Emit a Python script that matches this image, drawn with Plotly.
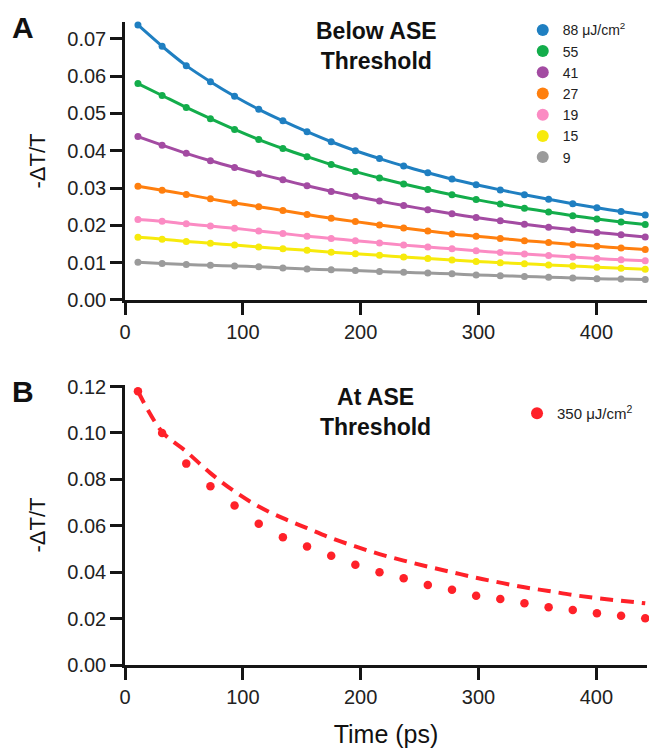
import plotly.graph_objects as go
from plotly.subplots import make_subplots

# ---------------- data ----------------
time_ps = [11, 31.5, 52, 72.5, 93, 113.5, 134, 154.5, 175, 195.5, 216, 236.5,
           257, 277.5, 298, 318.5, 339, 359.5, 380, 400.5, 421, 441.5]

fluence_labels = ["88 \u03bcJ/cm<sup>2</sup>", "55", "41", "27", "19", "15", "9"]
fluence_colors = ["#1f7fc1", "#13ad4b", "#a34ba2", "#ff7f0e", "#fb8bc3", "#f7ea0c", "#9b9b9b"]

dT_88 = [0.0737, 0.0680, 0.0628, 0.0585, 0.0546, 0.0511, 0.0480, 0.0451, 0.0424, 0.0400, 0.0379,
         0.0359, 0.0341, 0.0324, 0.0309, 0.0295, 0.0282, 0.0270, 0.0258, 0.0247, 0.0237, 0.0228]
dT_55 = [0.0580, 0.0548, 0.0516, 0.0486, 0.0457, 0.0430, 0.0406, 0.0384, 0.0363, 0.0344, 0.0327,
         0.0311, 0.0296, 0.0282, 0.0269, 0.0257, 0.0246, 0.0236, 0.0226, 0.0217, 0.0209, 0.0202]
dT_41 = [0.0438, 0.0415, 0.0393, 0.0373, 0.0355, 0.0338, 0.0322, 0.0306, 0.0291, 0.0278, 0.0265,
         0.0253, 0.0242, 0.0231, 0.0221, 0.0212, 0.0203, 0.0195, 0.0188, 0.0181, 0.0175, 0.0169]
dT_27 = [0.0305, 0.0294, 0.0283, 0.0271, 0.0260, 0.0250, 0.0240, 0.0229, 0.0219, 0.0210, 0.0201,
         0.0193, 0.0185, 0.0177, 0.0171, 0.0165, 0.0159, 0.0154, 0.0149, 0.0144, 0.0139, 0.0135]
dT_19 = [0.0216, 0.0211, 0.0204, 0.0198, 0.0192, 0.0185, 0.0178, 0.0171, 0.0165, 0.0159, 0.0153,
         0.0147, 0.0142, 0.0137, 0.0132, 0.0127, 0.0123, 0.0119, 0.0115, 0.0111, 0.0108, 0.0105]
dT_15 = [0.0168, 0.0163, 0.0157, 0.0152, 0.0147, 0.0142, 0.0137, 0.0133, 0.0128, 0.0124, 0.0120,
         0.0115, 0.0111, 0.0107, 0.0103, 0.0100, 0.0097, 0.0094, 0.0091, 0.0088, 0.0085, 0.0082]
dT_9 = [0.0101, 0.0098, 0.0095, 0.0093, 0.0091, 0.0089, 0.0086, 0.0083, 0.0081, 0.0079, 0.0076,
        0.0074, 0.0072, 0.0070, 0.0067, 0.0065, 0.0063, 0.0061, 0.0059, 0.0057, 0.0056, 0.0055]
below_series = [dT_88, dT_55, dT_41, dT_27, dT_19, dT_15, dT_9]

ase_label = "350 \u03bcJ/cm<sup>2</sup>"
ase_color = "#ff2129"
dT_350 = [0.1180, 0.1000, 0.0868, 0.0770, 0.0688, 0.0609, 0.0551, 0.0511, 0.0471, 0.0432, 0.0400,
          0.0374, 0.0345, 0.0324, 0.0299, 0.0285, 0.0266, 0.0249, 0.0237, 0.0223, 0.0212, 0.0201]
fit_350 = [0.1180, 0.1005, 0.0920, 0.0827, 0.0748, 0.0683, 0.0633, 0.0590, 0.0547, 0.0511, 0.0478,
           0.0450, 0.0424, 0.0400, 0.0376, 0.0355, 0.0335, 0.0319, 0.0302, 0.0288, 0.0277, 0.0266]

yticks_A = [0.00, 0.01, 0.02, 0.03, 0.04, 0.05, 0.06, 0.07]
yticks_B = [0.00, 0.02, 0.04, 0.06, 0.08, 0.10, 0.12]
xticks = [0, 100, 200, 300, 400]

# ---------------- figure ----------------
FONT = "Liberation Sans, Arial, sans-serif"
INK = "#151515"

fig = make_subplots(rows=2, cols=1)

for lab, col, vals in zip(fluence_labels, fluence_colors, below_series):
    fig.add_trace(go.Scatter(x=time_ps, y=vals, mode="lines",
                             line=dict(color=col, width=3, shape="spline", smoothing=0.8),
                             showlegend=False, hoverinfo="skip", cliponaxis=False), row=1, col=1)
    fig.add_trace(go.Scatter(x=time_ps, y=vals, mode="markers", name=lab,
                             marker=dict(color=col, size=7), legend="legend", cliponaxis=False),
                  row=1, col=1)

fig.add_trace(go.Scatter(x=time_ps, y=fit_350, mode="lines", showlegend=False,
                         line=dict(color=ase_color, width=4, dash="13px,8px", shape="spline"),
                         cliponaxis=False), row=2, col=1)
fig.add_trace(go.Scatter(x=time_ps, y=dT_350, mode="markers", name=ase_label,
                         marker=dict(color=ase_color, size=8.5), legend="legend2", cliponaxis=False),
              row=2, col=1)

axis_common = dict(showline=True, linecolor=INK, linewidth=2.5, ticks="outside", ticklen=12,
                   tickwidth=2.5, tickcolor=INK, showgrid=False, zeroline=False, automargin=False,
                   tickfont=dict(family=FONT, size=20, color="#222"))

fig.update_xaxes(range=[0, 443], tickvals=xticks, **axis_common)
fig.update_xaxes(title=dict(text="Time (ps)", font=dict(family=FONT, size=25, color="#111"), standoff=19),
                 row=2, col=1)
fig.update_yaxes(**axis_common)
fig.update_yaxes(range=[0, 0.0745], tickvals=yticks_A, tickformat=".2f", domain=[0.5677, 1.0],
                 title=dict(text="-\u0394T/T", font=dict(family=FONT, size=22, color="#111"), standoff=16),
                 row=1, col=1)
fig.update_yaxes(range=[0, 0.1207], tickvals=yticks_B, tickformat=".2f", domain=[0.0, 0.4355],
                 title=dict(text="-\u0394T/T", font=dict(family=FONT, size=22, color="#111"), standoff=16),
                 row=2, col=1)

fig.update_layout(
    width=649, height=750,
    margin=dict(l=125, r=2, t=22, b=85, autoexpand=False),
    paper_bgcolor="white", plot_bgcolor="white",
    font=dict(family=FONT, color="#111"),
    hovermode=False,
    legend=dict(x=0.762, y=1.012, xanchor="left", yanchor="top", bgcolor="rgba(0,0,0,0)",
                font=dict(family=FONT, size=14, color="#222"), itemsizing="constant",
                tracegroupgap=0),
    legend2=dict(x=0.751, y=0.4168, xanchor="left", yanchor="top", bgcolor="rgba(0,0,0,0)",
                 font=dict(family=FONT, size=15, color="#222"), itemsizing="constant"),
    annotations=[
        dict(text="<b>A</b>", x=-0.1954, y=0.992, xref="paper", yref="paper", showarrow=False,
             xanchor="center", yanchor="middle", font=dict(family=FONT, size=30, color="#111")),
        dict(text="<b>B</b>", x=-0.1954, y=0.426, xref="paper", yref="paper", showarrow=False,
             xanchor="center", yanchor="middle", font=dict(family=FONT, size=30, color="#111")),
        dict(text="<b>Below ASE<br>Threshold</b>", x=0.481, y=0.962, xref="paper", yref="paper",
             showarrow=False, xanchor="center", yanchor="middle",
             font=dict(family=FONT, size=23, color="#111")),
        dict(text="<b>At ASE<br>Threshold</b>", x=0.479, y=0.394, xref="paper", yref="paper",
             showarrow=False, xanchor="center", yanchor="middle",
             font=dict(family=FONT, size=23, color="#111")),
    ],
)

fig.write_html("out.html", config={"displayModeBar": False},
               post_script="document.body.style.margin='0';document.body.style.overflow='hidden';")
